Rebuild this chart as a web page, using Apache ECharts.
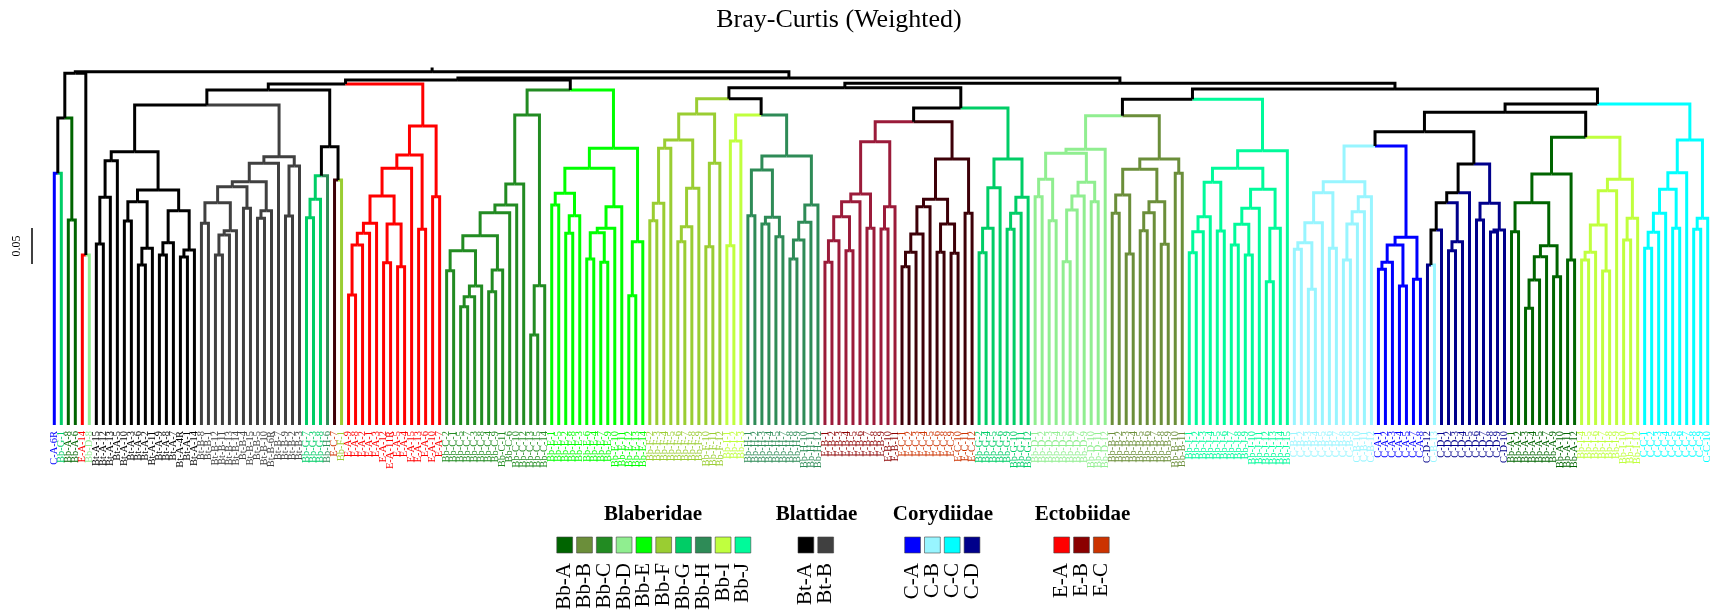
<!DOCTYPE html>
<html><head><meta charset="utf-8">
<script src="https://cdn.jsdelivr.net/npm/echarts@6/dist/echarts.min.js"></script>
<style>html,body{margin:0;padding:0;background:#fff}#c{width:1714px;height:616px}</style>
</head><body><div id="c"></div>
<script>
const chartTitle = 'Bray-Curtis (Weighted)';
const scaleBarValue = 0.05;
const scaleBarLabel = '0.05';

const leafLabels = [
'C-A-6R','Bb-G-1','Bb-A-8','Bb-A-6','E-A-14','Bb-D-8',
'Bt-A-15','Bt-A-12','Bt-A-13','Bt-A-5','Bt-A-10','Bt-A-3','Bt-A-6','Bt-A-2','Bt-A-11','Bt-A-9','Bt-A-8','Bt-A-7','Bt-A-4R','Bt-A-1','Bt-A-14',
'Bt-B-8','Bt-B-1','Bt-B-12','Bt-B-11','Bt-B-13','Bt-B-14','Bt-B-4','Bt-B-15','Bt-B-5','Bt-B-10','Bt-B-6R','Bt-B-7','Bt-B-9','Bt-B-2','Bt-B-3',
'Bb-G-7','Bb-G-3','Bb-G-8','Bb-H-6','E-C-7','Bb-F-1',
'E-A-9','E-A-8','E-A-2','E-A-1','E-A-3','E-A-12','E-A-11R','E-A-5','E-A-4','E-A-15','E-A-13','E-A-6','E-A-10','E-A-7',
'Bb-C-2','Bb-C-1','Bb-C-5','Bb-C-7','Bb-C-3','Bb-C-8','Bb-C-4','Bb-C-9','Bb-C-11','Bb-C-6','Bb-C-10','Bb-C-12','Bb-C-13','Bb-C-15','Bb-C-14',
'Bb-E-1','Bb-E-5','Bb-E-2','Bb-E-8','Bb-E-3','Bb-E-6','Bb-E-4','Bb-E-7','Bb-E-9','Bb-E-10','Bb-E-11','Bb-E-12','Bb-E-13','Bb-E-14',
'Bb-F-2','Bb-F-3','Bb-F-4','Bb-F-5','Bb-F-6','Bb-F-7','Bb-F-8','Bb-F-9','Bb-F-10','Bb-F-11','Bb-F-12',
'Bb-I-1','Bb-I-2','Bb-I-3',
'Bb-H-1','Bb-H-2','Bb-H-3','Bb-H-4','Bb-H-5','Bb-H-7','Bb-H-8','Bb-H-9','Bb-H-10','Bb-H-11','Bb-H-12',
'E-B-1','E-B-2','E-B-3','E-B-4','E-B-5','E-B-6','E-B-7','E-B-8','E-B-9','E-B-10','E-B-11',
'E-C-1','E-C-2','E-C-3','E-C-4','E-C-5','E-C-6','E-C-8','E-C-9','E-C-10','E-C-11','E-C-12',
'Bb-G-2','Bb-G-4','Bb-G-5','Bb-G-6','Bb-G-9','Bb-G-10','Bb-G-11','Bb-G-12',
'Bb-D-1','Bb-D-2','Bb-D-3','Bb-D-4','Bb-D-5','Bb-D-6','Bb-D-7','Bb-D-9','Bb-D-10','Bb-D-11','Bb-D-12',
'Bb-B-1','Bb-B-2','Bb-B-3','Bb-B-4','Bb-B-5','Bb-B-6','Bb-B-7','Bb-B-8','Bb-B-9','Bb-B-10','Bb-B-11',
'Bb-J-1','Bb-J-2','Bb-J-3','Bb-J-4','Bb-J-5','Bb-J-6','Bb-J-7','Bb-J-8','Bb-J-9','Bb-J-10','Bb-J-11','Bb-J-12','Bb-J-13','Bb-J-14','Bb-J-15',
'C-B-1','C-B-2','C-B-3','C-B-4','C-B-5','C-B-6','C-B-7','C-B-8','C-B-9','C-B-10','C-B-11','C-B-12',
'C-A-1','C-A-2','C-A-3','C-A-4','C-A-5','C-A-7','C-A-8',
'C-D-12','C-B-13','C-D-1','C-D-2','C-D-3','C-D-4','C-D-5','C-D-6','C-D-7','C-D-8','C-D-9','C-D-10',
'Bb-A-1','Bb-A-2','Bb-A-3','Bb-A-4','Bb-A-5','Bb-A-7','Bb-A-9','Bb-A-10','Bb-A-11','Bb-A-12',
'Bb-I-4','Bb-I-5','Bb-I-6','Bb-I-7','Bb-I-8','Bb-I-9','Bb-I-10','Bb-I-11','Bb-I-12',
'C-C-1','C-C-2','C-C-3','C-C-4','C-C-5','C-C-6','C-C-7','C-C-8','C-C-9','C-C-10'
];

const groupColors = {
  'Bb-A':'#006400','Bb-B':'#6B8E3A','Bb-C':'#228B22','Bb-D':'#90EE90','Bb-E':'#00FF00',
  'Bb-F':'#9ACD32','Bb-G':'#00CD66','Bb-H':'#2E8B57','Bb-I':'#C0FF3E','Bb-J':'#00FA9A',
  'Bt-A':'#000000','Bt-B':'#404040',
  'C-A':'#0000FF','C-B':'#98F5FF','C-C':'#00FFFF','C-D':'#00008B',
  'E-A':'#FF0000','E-B':'#8B0000','E-C':'#CC3300'
};
const branchColors = Object.assign({}, groupColors, {'E-B':'#9B1B3A','E-C':'#3D0008'});

// Tree nodes: [height, left, right]; numbers are leaf indices
const cladeOutliers = [0.4885, [0.4264, [0.3496, 0, 1], [0.2847, 2, 3]], [0.2361, 4, 5]];
const cladeBtA = [0.3796,
  [0.3671, [0.3163, [0.2514, 6, 7], 8], 9],
  [0.3264,
    [0.3101, [0.2833, 10, 11], [0.2454, [0.2222, 12, 13], 14]],
    [0.2976, [0.2532, [0.2361, 15, 16], 17], [0.2431, [0.2333, 18, 19], 20]]]];
const cladeBtB = [0.3726,
  [0.3635,
    [0.3379,
      [0.3310,
        [0.3088, [0.2801, 21, 22], [0.2699, [0.2639, [0.2361, 23, 24], 25], 26]],
        [0.3010, 27, 28]],
      [0.2976, [0.2871, 29, 30], 31]],
    32],
  [0.3597, [0.2903, 33, 34], 35]];
const cladeSmallMix = [0.3865,
  [0.3463, [0.3135, [0.2879, 36, 37], 38], 39],
  [0.3403, 40, 41]];
const cladeEA = [0.4153,
  [0.3750,
    [0.3565,
      [0.3181,
        [0.2801, [0.2663, [0.2500, [0.1806, 42, 43], 44], 45], 46],
        [0.2792, [0.2254, 47, 48], [0.2199, 49, 50]]],
      51],
    [0.2718, 52, 53]],
  [0.3171, 54, 55]];
const cladeBbC = [0.4306,
  [0.3347,
    [0.3056,
      [0.2949,
        [0.2629,
          [0.2421, [0.2143, 56, 57], [0.1931, [0.1782, [0.1643, 58, 59], 60], 61]],
          [0.2153, [0.1851, 62, 63], 64]],
        65],
      66],
    67],
  [0.1935, [0.1250, 68, 69], 70]];
const cladeBbE = [0.3843,
  [0.3565,
    [0.3218, [0.3056, 71, 72], [0.2907, [0.2663, 73, 74], 75]],
    [0.3032, [0.2732, [0.2671, [0.2306, 76, 77], [0.2260, 78, 79]], 80], 81]],
  [0.2546, [0.1796, 82, 83], 84]];
const cladeBbF = [0.4319,
  [0.3958,
    [0.3843, [0.3079, [0.2838, 85, 86], 87], 88],
    [0.3288, [0.2754, [0.2546, 89, 90], 91], 92]],
  [0.3635, [0.2476, 93, 94], 95]];
const cladeBbIa = [0.3944, [0.2490, 96, 97], 98];
const cladeBbH = [0.3736,
  [0.3542, [0.2907, 99, 100], [0.2885, [0.2792, 101, 102], [0.2615, 103, 104]]],
  [0.3056, [0.2815, [0.2569, [0.2306, 105, 106], 107], 108], 109]];
const cladeEB = [0.3935,
  [0.3208,
    [0.3101, [0.2893, [0.2560, [0.2260, 110, 111], 112], [0.2421, 113, 114]], 115],
    [0.2732, 116, 117]],
  [0.3032, [0.2722, 118, 119], 120]];
const cladeEC = [0.3694,
  [0.3135,
    [0.3032, [0.2653, [0.2399, [0.2199, 121, 122], 123], 124], 125],
    [0.2792, [0.2399, 126, 127], [0.2385, 128, 129]]],
  [0.2940, 130, 131]];
const cladeBbG = [0.3694,
  [0.3296, [0.2732, [0.2393, 132, 133], 134], 135],
  [0.3163, [0.2940, [0.2718, 136, 137], 138], 139]];
const cladeBbD = [0.3829,
  [0.3774,
    [0.3413, [0.3171, 140, 141], [0.2838, 142, 143]],
    [0.3371, [0.3181, [0.2986, [0.2268, 144, 145], 146], 147], [0.3101, 148, 149]]],
  150];
const cladeBbB = [0.3694,
  [0.3551,
    [0.3194, [0.2940, 151, 152], [0.2375, 153, 154]],
    [0.3101, [0.2949, [0.2699, 155, 156], 157], [0.2510, 158, 159]]],
  [0.3496, 160, 161]];
const cladeBbJ = [0.3810,
  [0.3565,
    [0.3371, [0.2893, [0.2685, [0.2393, 162, 163], 164], 165], [0.2694, 166, 167]],
    [0.3274, [0.3010, [0.2788, [0.2500, 168, 169], [0.2361, 170, 171]], 172], [0.2732, [0.1991, 173, 174], 175]]],
  176];
const cladeCB = [0.3379,
  [0.3226, [0.2810, [0.2532, [0.2440, 177, 178], [0.1885, 179, 180]], 181], [0.2454, 182, 183]],
  [0.3171, [0.2963, [0.2792, [0.2292, 184, 185], 186], 187], 188]];
const cladeCA = [0.2607,
  [0.2500, [0.2260, [0.2163, 189, 190], 191], [0.1931, 192, 193]],
  [0.2024, 194, 195]];
const cladeCD = [0.3625,
  [0.3226,
    [0.3088, [0.2708, [0.2222, 196, 197], 198], [0.2546, [0.2421, 199, 200], 201]],
    202],
  [0.3079, [0.2847, 203, 204], [0.2708, [0.2681, 205, 206], 207]]];
const cladeBbA = [0.3486,
  [0.3088, [0.2685, 208, 209], [0.2490, [0.2338, [0.2014, [0.1621, 210, 211], 212], 213], [0.2060, 214, 215]]],
  [0.2292, 216, 217]];
const cladeBbIb = [0.3413,
  [0.3254, [0.2778, [0.2399, [0.2292, 218, 219], 220], [0.2139, 221, 222]], 223],
  [0.2871, [0.2569, 224, 225], 226]];
const cladeCC = [0.3958,
  [0.3504, [0.3274, [0.2940, [0.2676, [0.2454, 227, 228], 229], 230], [0.2732, 231, 232]], 233],
  [0.2871, [0.2718, 234, 235], 236]];

const treeRoot = [0.4907, cladeOutliers,
  [0.4819,
    [0.4792,
      [0.4736, [0.4653, [0.4444, cladeBtA, cladeBtB], cladeSmallMix], cladeEA],
      [0.4653, cladeBbC, cladeBbE]],
    [0.4746,
      [0.4685,
        [0.4532, cladeBbF, [0.4306, cladeBbIa, cladeBbH]],
        [0.4403, [0.4213, cladeEB, cladeEC], cladeBbG]],
      [0.4667,
        [0.4524, [0.4296, cladeBbD, cladeBbB], cladeBbJ],
        [0.4458,
          [0.4343, [0.4074, [0.3875, cladeCB, cladeCA], cladeCD], [0.3996, cladeBbA, cladeBbIb]],
          cladeCC]]]]];

const legendFamilies = ['Blaberidae', 'Blattidae', 'Corydiidae', 'Ectobiidae'];
const legendGroups = [
  ['Bb-A','Bb-B','Bb-C','Bb-D','Bb-E','Bb-F','Bb-G','Bb-H','Bb-I','Bb-J'],
  ['Bt-A','Bt-B'],
  ['C-A','C-B','C-C','C-D'],
  ['E-A','E-B','E-C']
];

// ---------- build ----------
const groupOfLabel = l => l.split('-').slice(0, 2).join('-');
const groupOfLeaf = i => groupOfLabel(leafLabels[i]);
const segments = [];
function walk(node) {
  if (typeof node === 'number') return { x: node, h: 0, g: groupOfLeaf(node) };
  const h = node[0];
  const A = walk(node[1]), B = walk(node[2]);
  const x = (A.x + B.x) / 2;
  [A, B].forEach(c => {
    segments.push({ coords: [[c.x, c.h], [c.x, h], [x, h]],
      lineStyle: { color: c.g ? branchColors[c.g] : '#000000' } });
  });
  return { x, h, g: (A.g && A.g === B.g) ? A.g : null };
}
const rootInfo = walk(treeRoot);
segments.push({ coords: [[rootInfo.x, rootInfo.h], [rootInfo.x, rootInfo.h + 0.006]], lineStyle: { color: '#000000' } });

const chart = echarts.init(document.getElementById('c'), null, { renderer: 'canvas' });
const serif = 'Liberation Serif, DejaVu Serif, serif';

// legend graphics
const legendX0 = [556.8, 798, 904.7, 1053.8];
const legendTitleX = [653, 816.5, 943, 1082.5];
const sw = 15.8, step = 19.8;
const graphics = [];
graphics.push({ type: 'text', x: 839, y: 20, style: { text: chartTitle, font: '26px ' + serif, fill: '#000', align: 'center', verticalAlign: 'middle' } });
legendFamilies.forEach((fam, k) => {
  graphics.push({ type: 'text', x: legendTitleX[k], y: 515,
    style: { text: fam, font: 'bold 21px ' + serif, fill: '#000', align: 'center', verticalAlign: 'middle' } });
  legendGroups[k].forEach((g, j) => {
    const x = legendX0[k] + j * step;
    graphics.push({ type: 'rect', shape: { x: x, y: 537, width: sw, height: 16 },
      style: { fill: groupColors[g], stroke: '#444', lineWidth: 0.6 } });
    graphics.push({ type: 'text', x: x + sw / 2, y: 563, rotation: Math.PI / 2,
      style: { text: g, font: '21px ' + serif, fill: '#000', align: 'right', verticalAlign: 'middle' } });
  });
});

chart.setOption({
  animation: false,
  backgroundColor: '#ffffff',
  grid: { left: 54.3, right: 6.3, top: 65, bottom: 191, containLabel: false },
  xAxis: [
    { type: 'value', min: 0, max: leafLabels.length - 1, show: false },
    { type: 'category', data: leafLabels, boundaryGap: false, position: 'bottom',
      axisLine: { show: false }, axisTick: { show: false }, splitLine: { show: false },
      axisLabel: { interval: 0, rotate: 90, margin: 6, fontSize: 10.5, fontFamily: serif,
        color: v => groupColors[groupOfLabel(v)] } }
  ],
  yAxis: { type: 'value', min: 0, max: 0.5, show: false },
  series: [{
    type: 'lines', coordinateSystem: 'cartesian2d', xAxisIndex: 0, yAxisIndex: 0,
    polyline: true, silent: true, animation: false,
    lineStyle: { width: 3, opacity: 1, cap: 'butt', join: 'miter' },
    data: segments
  }],
  graphic: graphics
});

// scale bar drawn with the y axis scale
const p0 = chart.convertToPixel({ yAxisIndex: 0 }, 0);
const p1 = chart.convertToPixel({ yAxisIndex: 0 }, scaleBarValue);
const barLen = Math.abs(p0 - p1);
const barMid = 246;
graphics.push({ type: 'line', shape: { x1: 32, y1: barMid - barLen / 2, x2: 32, y2: barMid + barLen / 2 },
  style: { stroke: '#000', lineWidth: 1.5 } });
graphics.push({ type: 'text', x: 17, y: barMid, rotation: Math.PI / 2,
  style: { text: scaleBarLabel, font: '12px ' + serif, fill: '#000', align: 'center', verticalAlign: 'middle' } });
chart.setOption({ graphic: graphics }, { replaceMerge: ['graphic'] });
</script>
</body></html>
